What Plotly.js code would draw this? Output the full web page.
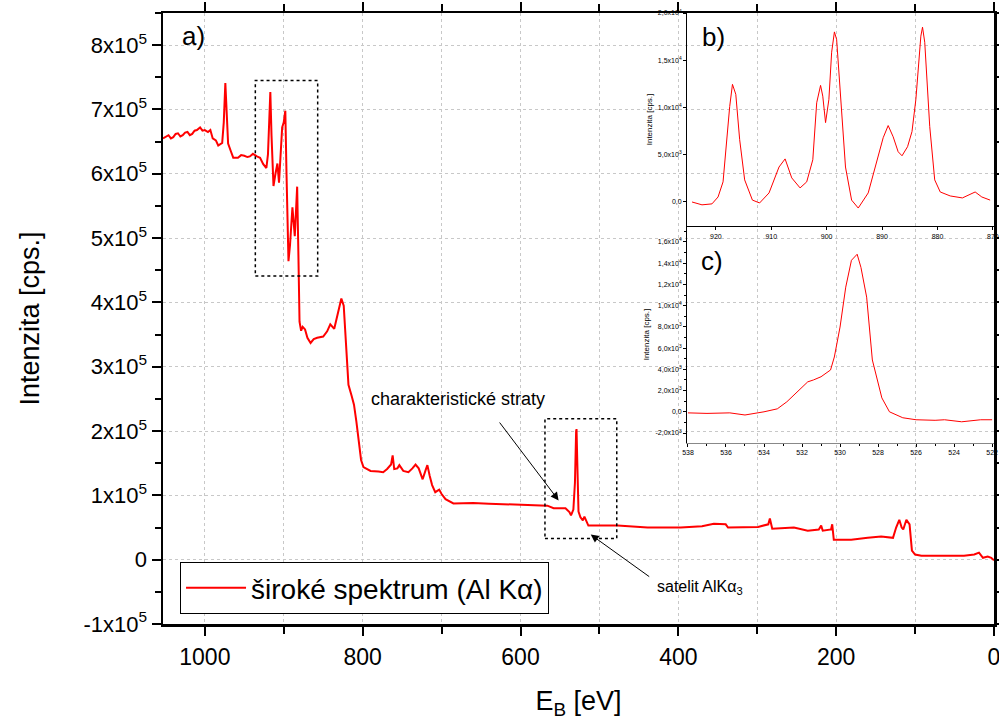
<!DOCTYPE html>
<html>
<head>
<meta charset="utf-8">
<script src="https://cdn.plot.ly/plotly-3.0.1.min.js"></script>
<style>html,body{margin:0;padding:0;background:#fff;}#chart{width:999px;height:720px;}</style>
</head>
<body>
<div id="chart"></div>
<script>
// ---- main survey spectrum (binding energy eV, intensity cps) ----
const mainE = [1053,1049,1046,1043,1040,1037,1034,1031,1028,1025,1022,1019,1016,1013,1010,1006,1003,1000,996,993,990,986,983,978,976,974,972.5,970.5,967,964,958,954,950,946,943,939,934,930,926,922,920,918.5,917,915.5,913,910.5,908,906,904,902,900,898,896.5,894,892,889,886,884.5,883,881.5,880.5,880,878,876,873,870,866,862,857.6,850,845,841,836,832,827,824,822,818,814,811,808,805.5,802,799,790,780,774,769,764,762,760,756,753.5,748.5,742,737,733,729,724,720,718,715,712,708,703,700,695,685,660,640,620,600,583,566,558,543,538,536,533,531,529.5,529,528,526.5,524,521,519,516,514,477,439,397,370,355,340,337,299,286,284,281,253.5,236,225,222,219,217,206.5,205,203,181,160,143,128,124,120,117,115,111,107,104,100,92,60,38,25,19,14,8,3.5,0];
const mainI = [655e3,658e3,660e3,655e3,657e3,662e3,663e3,658e3,660e3,664e3,665e3,660e3,662e3,667e3,668e3,672e3,667e3,668e3,665e3,668e3,655e3,652e3,644e3,648e3,680e3,741e3,700e3,647e3,635e3,625e3,625e3,629e3,628e3,626e3,627e3,631e3,627e3,625e3,615e3,609e3,630e3,700e3,727e3,660e3,581e3,600e3,616e3,586e3,630e3,672e3,680e3,698e3,600e3,464e3,490e3,548e3,503e3,540e3,580e3,480e3,402e3,370e3,356e3,362e3,358e3,345e3,337e3,343e3,345e3,347e3,355e3,366e3,359e3,380e3,406e3,395e3,359e3,272e3,255e3,241e3,215e3,188e3,155e3,144e3,138e3,137e3,136e3,141e3,148e3,162e3,141e3,142e3,147e3,138e3,136e3,142e3,148e3,142e3,125e3,140e3,147e3,130e3,116e3,105e3,109e3,102e3,94e3,87.5e3,88e3,87e3,86e3,85.5e3,84e3,84e3,80e3,80e3,74e3,69e3,78e3,120e3,200e3,203e3,150e3,75e3,66e3,61e3,67e3,58e3,53e3,53e3,50e3,50e3,52e3,56e3,55e3,50e3,51e3,55e3,64e3,48e3,50e3,45e3,47e3,47e3,53e3,45e3,47e3,55e3,31e3,31e3,34e3,36e3,34e3,50e3,62e3,50e3,47e3,62e3,55e3,14e3,8e3,6e3,6e3,6e3,8e3,11e3,3e3,5e3,3e3,-1e3];

// ---- inset b) detail ----
const bE = [924.3,922.5,920.7,919.6,918.7,917.5,917,916.4,915.7,914.8,913.4,912.1,910.4,908.6,907.5,906.3,904.8,903.6,902.5,901.8,901.1,900.7,900.2,899.6,899.1,898.6,898.2,897.5,896.6,895.5,894.3,892.5,891.1,889.8,888.9,888,887.1,886.4,885.4,884.6,883.9,883,882.7,882.3,881.4,880.5,879.5,877.7,875.5,873.2,872,870.5];
const bI = [0,-300,-200,530,2130,10100,12450,11400,6600,2340,200,-100,960,3700,4560,2550,1490,2130,4470,10500,12340,11200,8400,10850,15850,18000,17200,10850,3700,200,-640,960,4150,6800,8090,6900,5320,4890,5850,7450,10850,17550,18500,16900,8000,2340,1060,640,430,1060,530,200];

// ---- inset c) detail ----
const cE = [538,537,535.8,535,534,533.3,532.8,532.3,531.7,531.4,531,530.5,530.3,530,529.7,529.4,529.1,528.9,528.6,528.3,527.8,527.4,526.7,526,525,524.5,523.6,522.6,522];
const cI = [-100,-150,-100,-300,0,280,940,1780,2820,3000,3300,3940,5160,7980,11740,14270,14840,13600,10800,4880,1310,0,-560,-750,-800,-750,-940,-750,-750];

// ---- tick labels ----
const mainYVals = [-1e5,0,1e5,2e5,3e5,4e5,5e5,6e5,7e5,8e5];
const mainYText = ['-1x10<sup>5</sup>','0','1x10<sup>5</sup>','2x10<sup>5</sup>','3x10<sup>5</sup>','4x10<sup>5</sup>','5x10<sup>5</sup>','6x10<sup>5</sup>','7x10<sup>5</sup>','8x10<sup>5</sup>'];
const bXVals = [920,910,900,890,880,870];
const bXText = ['920','910','900','890','880','870'];
const bYVals = [0,5000,10000,15000,20000];
const bYText = ['0,0','5,0x10<sup>3</sup>','1,0x10<sup>4</sup>','1,5x10<sup>4</sup>','2,0x10<sup>4</sup>'];
const cXVals = [538,536,534,532,530,528,526,524,522];
const cXText = ['538','536','534','532','530','528','526','524','522'];
const cYVals = [-2000,0,2000,4000,6000,8000,10000,12000,14000,16000];
const cYText = ['-2,0x10<sup>3</sup>','0,0','2,0x10<sup>3</sup>','4,0x10<sup>3</sup>','6,0x10<sup>3</sup>','8,0x10<sup>3</sup>','1,0x10<sup>4</sup>','1,2x10<sup>4</sup>','1,4x10<sup>4</sup>','1,6x10<sup>4</sup>'];

const FONT = 'Liberation Sans, Arial, sans-serif';
const red = '#ff0000';

const traces = [
  {x: mainE, y: mainI, type: 'scatter', mode: 'lines', name: 'široké spektrum (Al Kα)',
   line: {color: red, width: 2}, xaxis: 'x', yaxis: 'y', showlegend: true},
  {x: bE, y: bI, type: 'scatter', mode: 'lines', line: {color: red, width: 1},
   xaxis: 'x2', yaxis: 'y2', showlegend: false},
  {x: cE, y: cI, type: 'scatter', mode: 'lines', line: {color: red, width: 1},
   xaxis: 'x3', yaxis: 'y3', showlegend: false}
];

const smallAxis = {showline: true, linecolor: '#000', linewidth: 1, ticks: 'outside', ticklen: 3,
  tickcolor: '#000', tickfont: {family: FONT, size: 7, color: '#000'}, showgrid: false, zeroline: false,
  ticklabeloverflow: 'allow'};

const layout = {
  width: 999, height: 720,
  margin: {l: 163, r: 5, t: 13, b: 96},
  paper_bgcolor: '#fff', plot_bgcolor: 'rgba(0,0,0,0)',
  font: {family: FONT, color: '#000'},
  showlegend: true,
  legend: {x: 0.0205, y: 0.1015, xanchor: 'left', yanchor: 'top', bgcolor: '#fff',
    bordercolor: '#000', borderwidth: 1, itemwidth: 60,
    font: {family: FONT, size: 28, color: '#000'}},
  xaxis: {domain: [0, 1], range: [1053, 0], showline: true, linecolor: '#000', linewidth: 2.5,
    mirror: 'ticks', ticks: 'outside', ticklen: 9, tickwidth: 2, tickcolor: '#000',
    dtick: 200, tick0: 0, tickfont: {family: FONT, size: 23}, ticklabelstandoff: 2,
    ticklabeloverflow: 'allow',
    showgrid: true, gridcolor: '#c8c8c8', griddash: 'dot', gridwidth: 1, zeroline: false,
    minor: {dtick: 100, ticks: 'outside', ticklen: 7, tickwidth: 2, tickcolor: '#000',
      showgrid: true, gridcolor: '#c8c8c8', griddash: 'dot'},
    title: {text: 'E<sub>B</sub> [eV]', font: {family: FONT, size: 27}, standoff: 27}},
  yaxis: {domain: [0, 1], range: [-1e5, 8.5e5], showline: true, linecolor: '#000', linewidth: 2.5,
    mirror: 'ticks', ticks: 'outside', ticklen: 9, tickwidth: 2, tickcolor: '#000',
    tickvals: mainYVals, ticktext: mainYText, tickfont: {family: FONT, size: 22},
    showgrid: true, gridcolor: '#c8c8c8', griddash: 'dot', gridwidth: 1, zeroline: false,
    minor: {dtick: 5e4, tick0: 0, ticks: 'outside', ticklen: 6, tickwidth: 2, tickcolor: '#000', showgrid: false},
    title: {text: 'Intenzita [cps.]', font: {family: FONT, size: 27}, standoff: 36}},
  xaxis2: Object.assign({}, smallAxis, {domain: [0.6306, 1], anchor: 'y2', range: [925.2, 869.8],
    tickvals: bXVals, ticktext: bXText, linewidth: 1.5}),
  yaxis2: Object.assign({}, smallAxis, {domain: [0.6514, 1], anchor: 'x2', range: [-2540, 20000],
    tickvals: bYVals, ticktext: bYText,
    title: {text: 'Intenzita [cps.]', font: {family: FONT, size: 8}, standoff: 4}}),
  xaxis3: Object.assign({}, smallAxis, {domain: [0.6306, 1], anchor: 'y3', range: [538.05, 521.9], linecolor: '#888',
    tickvals: cXVals, ticktext: cXText,
    minor: {dtick: 1, ticks: 'outside', ticklen: 2, tickcolor: '#000'}}),
  yaxis3: Object.assign({}, smallAxis, {domain: [0.2962, 0.6514], anchor: 'x3', range: [-2940, 17500],
    tickvals: cYVals, ticktext: cYText,
    minor: {dtick: 1000, tick0: 0, ticks: 'outside', ticklen: 2, tickcolor: '#000'},
    title: {text: 'Intenzita [cps.]', font: {family: FONT, size: 8}, standoff: 4}}),
  shapes: [
    {type: 'rect', xref: 'x', yref: 'y', x0: 936, x1: 857, y0: 4.41e5, y1: 7.45e5,
     line: {color: '#000', width: 1.5, dash: 'dot'}},
    {type: 'rect', xref: 'x', yref: 'y', x0: 569, x1: 478, y0: 0.33e5, y1: 2.19e5,
     line: {color: '#000', width: 1.5, dash: 'dot'}}
  ],
  annotations: [
    {xref: 'paper', yref: 'paper', x: 0.037, y: 0.963, xanchor: 'center', yanchor: 'middle',
     text: 'a)', showarrow: false, font: {family: FONT, size: 26}},
    {xref: 'paper', yref: 'paper', x: 0.663, y: 0.960, xanchor: 'center', yanchor: 'middle',
     text: 'b)', showarrow: false, font: {family: FONT, size: 26}},
    {xref: 'paper', yref: 'paper', x: 0.661, y: 0.594, xanchor: 'center', yanchor: 'middle',
     text: 'c)', showarrow: false, font: {family: FONT, size: 26}},
    {xref: 'x', yref: 'y', x: 678.6, y: 2.5e5, xanchor: 'center', yanchor: 'middle',
     text: 'charakteristické straty', showarrow: false, font: {family: FONT, size: 18}},
    {xref: 'x', yref: 'y', x: 551.7, y: 0.922e5, axref: 'x', ayref: 'y', ax: 627.9, ay: 2.156e5,
     text: '', showarrow: true, arrowhead: 2, arrowsize: 1.6, arrowwidth: 1, arrowcolor: '#000'},
    {xref: 'x', yref: 'y', x: 511, y: 0.39e5, axref: 'x', ayref: 'y', ax: 435, ay: -0.28e5,
     text: '', showarrow: true, arrowhead: 2, arrowsize: 1.6, arrowwidth: 1, arrowcolor: '#000'},
    {xref: 'x', yref: 'y', x: 372, y: -0.43e5, xanchor: 'center', yanchor: 'middle',
     text: 'satelit AlKα<sub>3</sub>', showarrow: false, font: {family: FONT, size: 16}}
  ]
};

Plotly.newPlot('chart', traces, layout, {displayModeBar: false, staticPlot: true});
</script>
</body>
</html>
